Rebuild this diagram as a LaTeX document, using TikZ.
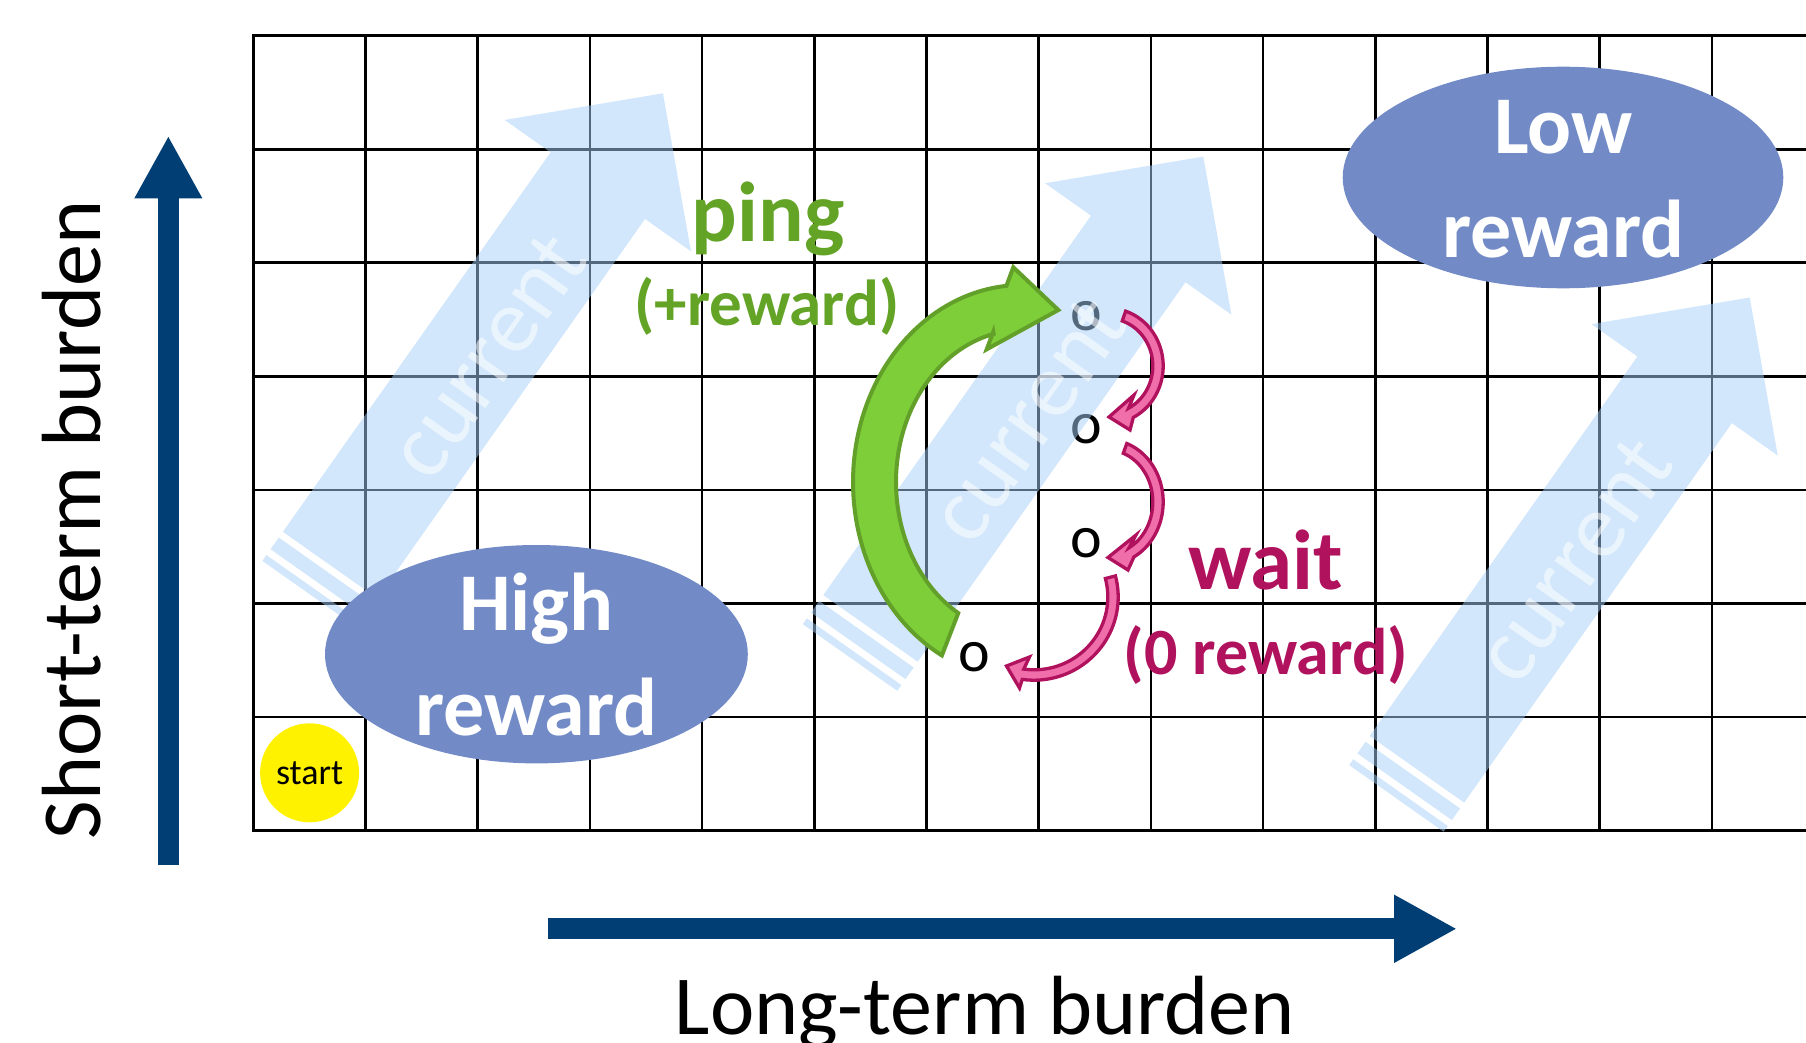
\documentclass[tikz,border=0pt]{standalone}
\usepackage{fontspec}
\setmainfont{Carlito}
\usetikzlibrary{shapes.geometric,arrows.meta}
\newcommand{\myfs}[1]{\fontsize{#1}{#1}\selectfont}
\definecolor{axisblue}{RGB}{0,62,116}
\definecolor{curblue}{RGB}{166,209,250}
\definecolor{ellblue}{RGB}{114,139,199}
\definecolor{pinggreen}{RGB}{99,164,39}
\definecolor{arrgreen}{RGB}{126,206,58}
\definecolor{arrgreenline}{RGB}{98,160,42}
\definecolor{waitmag}{RGB}{176,18,94}
\definecolor{pinkfill}{RGB}{240,110,170}
\tikzset{
  gridline/.style={line width=2.6pt, black, line cap=rect},
  onode/.style={inner sep=0pt, font={\myfs{60}}},
  curfill/.style={fill=curblue, fill opacity=0.5},
  curtext/.style={text=white, text opacity=0.55, font={\myfs{92}}, rotate=54.8, inner sep=0pt},
  rewellipse/.style={ellipse, fill=ellblue, inner sep=0pt},
  rewtext/.style={text=white, font={\myfs{82}\bfseries}, anchor=base, inner sep=0pt},
  startnode/.style={circle, fill=yellow, minimum size=99pt, inner sep=0pt, font={\myfs{36}}},
  greenarrow/.style={fill=arrgreen, draw=arrgreenline, line width=4pt, line join=miter},
  pinkarrow/.style={fill=pinkfill, draw=waitmag, line width=3.3pt, line join=miter},
  pinglabel/.style={text=pinggreen, font={\myfs{#1}\bfseries}, anchor=base, inner sep=0pt},
  waitlabel/.style={text=waitmag, font={\myfs{#1}\bfseries}, anchor=base, inner sep=0pt},
  axislabel/.style={font={\myfs{84}}, anchor=base, inner sep=0pt},
  axisarrow/.style={draw=axisblue, line width=21.3pt, -{Triangle[length=62.8pt, width=63.3pt]}}
}
\newcommand{\curarrow}[2]{%
  \begin{scope}[shift={#2}, rotate=54.8]
    \fill[curfill] (0,-57.8) rectangle (7.1,57.8)
      (14.25,-57.8) rectangle (28.5,57.8)
      (35.6,-57.8) -- (500,-57.8) -- (500,-114) -- (613,0) -- (500,114) -- (500,57.8) -- (35.6,57.8) -- cycle;
    \node[curtext] (#1) at (297,8) {current};
  \end{scope}}
\newcommand{\pinkarc}[9]{%
  \path[pinkarrow] plot[variable=\t, domain=#5:#6, samples=40] ({#1+(#3+5.2)*cos(\t)},{#2+(#4+5.2)*sin(\t)})
    -- #7 -- #8 -- #9
    -- plot[variable=\t, domain=#6:#5, samples=40] ({#1+(#3-5.2)*cos(\t)},{#2+(#4-5.2)*sin(\t)}) -- cycle;}
\begin{document}
\begin{tikzpicture}[x=1pt,y=-1pt]
\path[fill=white, use as bounding box] (0,0) rectangle (1806,1043);
% grid
\foreach \k in {0,...,13} \draw[gridline] ({253.3+112.2*\k},35.7) -- ({253.3+112.2*\k},830.5);
\foreach \j in {0,...,7} \draw[gridline] (253.3,{35.7+113.54*\j}) -- (1810,{35.7+113.54*\j});
% states
\node[onode] (o1) at (1086,316) {o};
\node[onode] (o2) at (1086,429) {o};
\node[onode] (o3) at (1086,543) {o};
\node[onode] (o4) at (974,657) {o};
% currents
\curarrow{cur1}{(309.6,594.2)}
\curarrow{cur2}{(850,657.5)}
\curarrow{cur3}{(1396.4,798.4)}
% reward ellipses
\node[rewellipse, minimum width=422.8pt, minimum height=218.4pt] (high) at (536.4,654.2) {};
\node[rewtext] (hightxt) at (536.4,630.7) {High};
\node[rewtext] (highrew) at (536.4,735) {reward};
\node[rewellipse, minimum width=440.6pt, minimum height=221.6pt] (low) at (1563,177.5) {};
\node[rewtext] (lowtxt) at (1563.5,153.3) {Low};
\node[rewtext] (lowrew) at (1563.5,257.3) {reward};
\node[startnode] (start) at (309.6,772.8) {start};
% ping arrow
\path[greenarrow] plot[variable=\t, domain=118.3:264.7, samples=70] ({1022+169*cos(\t)},{482+197*sin(\t)})
  -- (1013.3,267.3) -- (1058.3,310) -- (986.7,349.3) -- (993.3,331.7)
  -- plot[variable=\t, domain=257:120.4, samples=70] ({1022+126*cos(\t)},{482+152*sin(\t)}) -- cycle;
% wait arrows
\pinkarc{1108}{366}{50}{52.7}{-71.4}{62.7}{(1130,430)}{(1109,417)}{(1134,395)}
\pinkarc{1108}{502}{50}{57}{-70.1}{62}{(1128,570)}{(1108,557.5)}{(1136,535)}
\pinkarc{1034}{597}{79}{78}{-14.7}{98}{(1019.5,688)}{(1006.5,666)}{(1029.5,657)}
% labels
\node[pinglabel=85] (ping) at (768,241) {ping};
\node[pinglabel=65] (pingrew) at (767,325) {(+reward)};
\node[waitlabel=85] (wait) at (1265.5,589.5) {wait};
\node[waitlabel=66] (waitrew) at (1266,674) {(0 reward)};
% axes
\coordinate (ybot) at (168.35,865);
\coordinate (ytop) at (168.35,135.7);
\draw[axisarrow] (ybot) -- (ytop);
\coordinate (xleft) at (548,928.8);
\coordinate (xright) at (1457,928.8);
\draw[axisarrow] (xleft) -- (xright);
\node[axislabel] (xlabel) at (984.7,1034) {Long-term burden};
\node[axislabel, rotate=90] (ylabel) at (100,520) {Short-term burden};
\end{tikzpicture}
\end{document}
